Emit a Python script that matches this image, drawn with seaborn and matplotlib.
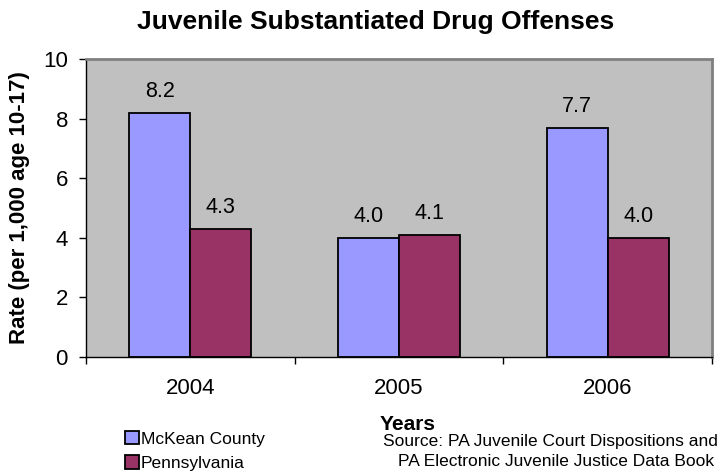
import matplotlib
matplotlib.use("Agg")
import matplotlib.pyplot as plt
from matplotlib.patches import Patch
import seaborn as sns
import pandas as pd

years = ["2004", "2005", "2006"]
mckean = [8.2, 4.0, 7.7]
penn = [4.3, 4.1, 4.0]
series_names = ["McKean County", "Pennsylvania"]
colors = ["#9999FF", "#993366"]

df = pd.DataFrame({
    "Year": years * 2,
    "Rate": mckean + penn,
    "Area": [series_names[0]] * 3 + [series_names[1]] * 3,
})

sns.set_style("white")
plt.rcParams["font.family"] = ["Liberation Sans", "DejaVu Sans"]
plt.rcParams["text.color"] = "black"
plt.rcParams["xtick.color"] = "black"
plt.rcParams["ytick.color"] = "black"
plt.rcParams["axes.labelcolor"] = "black"

W, H = 722, 473
fig = plt.figure(figsize=(W / 100, H / 100), dpi=100)
ax = fig.add_axes([86 / W, 1 - 357 / H, (712 - 86) / W, (357 - 59) / H])

sns.barplot(data=df, x="Year", y="Rate", hue="Area", palette=colors,
            saturation=1, width=0.585, edgecolor="black", linewidth=1.3,
            ax=ax, legend=False)

ax.set_facecolor("#C0C0C0")
ax.set_ylim(0, 10)
ax.set_xlim(-0.5, 2.5)
ax.set_yticks(range(0, 11, 2))
ax.set_xticks([-0.5, 0.5, 1.5, 2.5])
ax.set_xticklabels([])
ax.set_xticks([0, 1, 2], minor=True)
ax.set_xticklabels(years, minor=True, fontsize=16)
ax.tick_params(axis="x", which="major", length=5, width=1, direction="out", bottom=True)
ax.tick_params(axis="x", which="minor", length=0, pad=15)
ax.tick_params(axis="y", length=5, width=1, direction="out", left=True,
               labelsize=16, pad=8)

for side in ["left", "bottom"]:
    ax.spines[side].set_color("black")
    ax.spines[side].set_linewidth(1)
for side in ["top", "right"]:
    ax.spines[side].set_color("#808080")
    ax.spines[side].set_linewidth(2)

for cont in ax.containers:
    ax.bar_label(cont, fmt="%.1f", padding=7.5, fontsize=15.5)

ax.set_xlabel("")
ax.set_ylabel("")
fig.text(20 / W, 1 - 208 / H, "Rate (per 1,000 age 10-17)", rotation=90,
         ha="center", va="center", fontsize=16, fontweight="bold")

fig.text(376 / W, 1 - 22 / H, "Juvenile Substantiated Drug Offenses",
         ha="center", va="center", fontsize=19, fontweight="bold")
fig.text(380 / W, 1 - 424 / H, "Years", ha="left", va="center",
         fontsize=15, fontweight="bold")
fig.text(383 / W, 1 - 441 / H, "Source: PA Juvenile Court Dispositions and",
         ha="left", va="center", fontsize=12.5)
fig.text(398 / W, 1 - 461 / H, "PA Electronic Juvenile Justice Data Book",
         ha="left", va="center", fontsize=12.5)

handles = [Patch(facecolor=c, edgecolor="black", linewidth=1.3) for c in colors]
fig.legend(handles, series_names, loc="upper left",
           bbox_to_anchor=(125 / W, 1 - 431 / H), frameon=False,
           fontsize=12.5, handlelength=0.8, handleheight=0.8, handletextpad=0.12,
           labelspacing=0.5, borderaxespad=0, borderpad=0)

fig.savefig("out.png", dpi=100)
